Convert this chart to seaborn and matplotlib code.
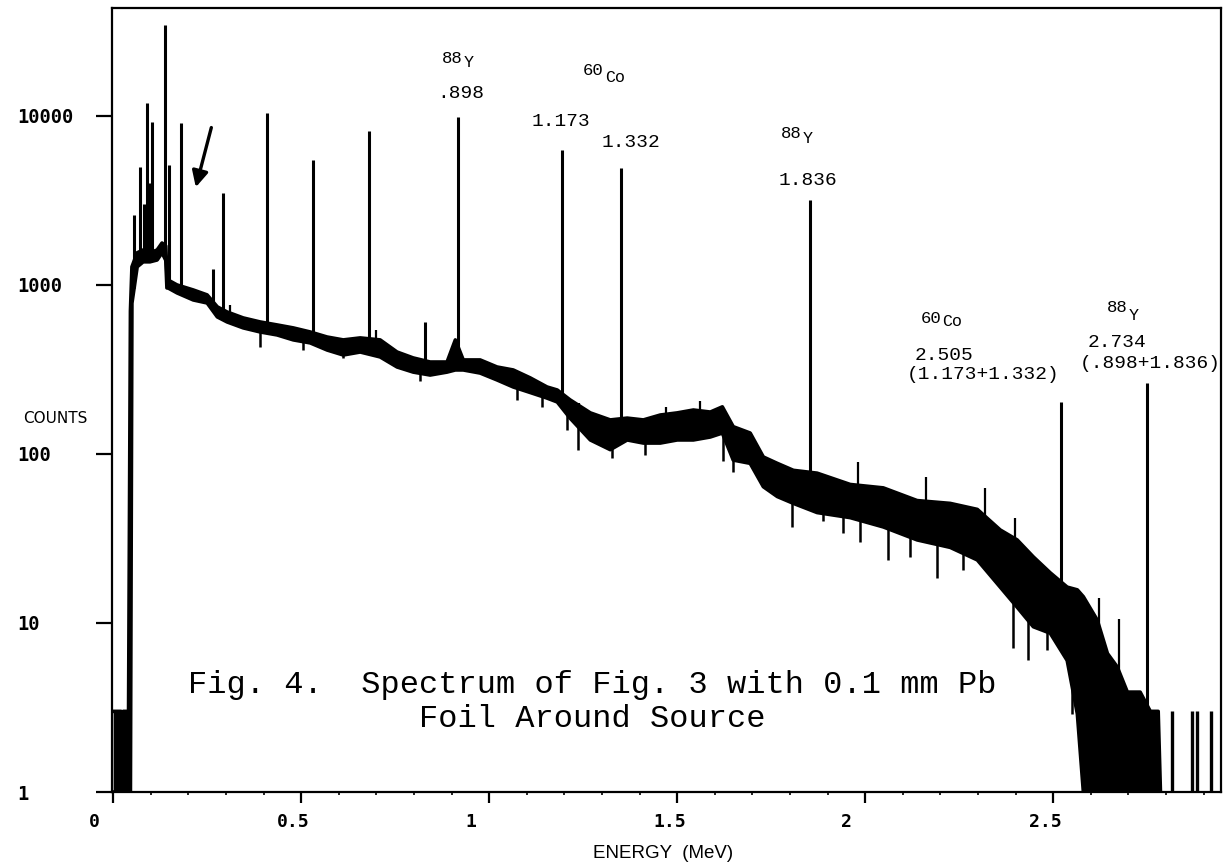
import matplotlib
matplotlib.use("Agg")
import matplotlib.pyplot as plt
import matplotlib.transforms as mtransforms
from matplotlib.ticker import MultipleLocator, NullLocator
import numpy as np
import seaborn as sns

# continuum band: energy (MeV), upper and lower edge (counts)
env_energy = [0.000, 0.021, 0.022, 0.026, 0.027, 0.041, 0.046, 0.050, 0.064, 0.080,
              0.098, 0.117, 0.130, 0.140, 0.143, 0.146, 0.170, 0.213, 0.250, 0.277,
              0.303, 0.346, 0.391, 0.436, 0.479, 0.524, 0.569, 0.612, 0.657, 0.710,
              0.755, 0.798, 0.843, 0.888, 0.910, 0.931, 0.976, 1.021, 1.064, 1.109,
              1.154, 1.181, 1.215, 1.269, 1.322, 1.367, 1.410, 1.455, 1.500, 1.543,
              1.588, 1.620, 1.649, 1.694, 1.729, 1.766, 1.809, 1.872, 1.960, 2.048,
              2.138, 2.226, 2.298, 2.359, 2.404, 2.447, 2.492, 2.537, 2.564, 2.580,
              2.617, 2.644, 2.670, 2.697, 2.731, 2.758, 2.779, 2.785]
env_upper = [3, 3, 1, 1, 3, 3, 700, 1280, 1550, 1610,
             1550, 1610, 1770, 1700, 1150, 1070, 1000, 934, 873, 742,
             692, 638, 604, 580, 557, 527, 492, 473, 486, 473,
             401, 370, 350, 350, 473, 360, 360, 327, 314, 282,
             249, 239, 209, 175, 159, 163, 159, 170, 175, 182,
             177, 190, 145, 133, 96, 88, 80, 77, 66, 63,
             53, 51, 47, 35.5, 31, 24.6, 19.8, 16.3, 15.7, 14.3,
             10.4, 6.6, 5.5, 3.9, 3.9, 3, 3, 1]
env_lower = [1, 1, 1, 1, 1, 1, 1, 780, 1280, 1370,
             1370, 1405, 1550, 1400, 960, 960, 897, 815, 782, 647,
             604, 557, 527, 506, 473, 454, 412, 385, 401, 375,
             327, 305, 293, 305, 314, 314, 301, 274, 249, 231,
             214, 203, 163, 121, 106, 121, 116, 116, 121, 121,
             126, 133, 92, 88, 64, 56, 51, 45, 42, 37,
             31, 28, 23.6, 16.3, 12.4, 9.5, 8.7, 6.0, 2.9, 1,
             1, 1, 1, 1, 1, 1, 1, 1]

# photopeaks (MeV position as drawn, peak height in counts)
peak_energy = [0.055, 0.072, 0.081, 0.090, 0.097, 0.104, 0.138, 0.149, 0.181, 0.266,
               0.293, 0.410, 0.532, 0.681, 0.830, 0.918, 1.194, 1.351, 1.854, 2.521, 2.750]
peak_counts = [2600, 5000, 3000, 12000, 4000, 9200, 34500, 5100, 9100, 1250,
               3500, 10400, 5500, 8100, 600, 9800, 6300, 4900, 3200, 204, 264]

# noise spikes sticking out of the band
spike_up_energy = [0.312, 0.700, 1.240, 1.470, 1.560, 1.981, 2.162, 2.319, 2.399, 2.622, 2.676]
spike_up_counts = [760, 540, 200, 190, 205, 90, 73, 63, 42, 14, 10.6]
spike_down_energy = [0.391, 0.505, 0.612, 0.816, 1.074, 1.141, 1.207, 1.237, 1.327, 1.415,
                     1.622, 1.649, 1.806, 1.888, 1.941, 1.987, 2.061, 2.120, 2.191, 2.261,
                     2.394, 2.434, 2.484, 2.551]
spike_down_counts = [428, 412, 370, 269, 209, 190, 139, 106, 95, 99,
                     91, 78, 37, 40, 34, 30, 23.6, 24.5, 18.5, 20.6,
                     7.1, 6.0, 6.9, 2.9]

# isolated single channels past the 2.734 line
tail_energy = [2.816, 2.870, 2.883, 2.920]
tail_counts = [3, 3, 3, 3]

x_ticks = [0, 0.5, 1, 1.5, 2, 2.5]
x_tick_labels = ["0", "0.5", "1", "1.5", "2", "2.5"]
y_ticks = [1, 10, 100, 1000, 10000]
y_tick_labels = ["1", "10", "100", "1000", "10000"]

sns.set_theme(style="ticks")
plt.rcParams['font.family'] = ['DejaVu Sans']

W, H = 1227, 863
fig = plt.figure(figsize=(W / 100, H / 100), dpi=100)
fig.patch.set_facecolor("white")
ax = fig.add_axes([112 / W, 71 / H, 1109 / W, 784 / H])
ax.set_facecolor("white")
ax.set_yscale("log")

ink = "black"
ax.fill_between(env_energy, env_lower, env_upper, color=ink, lw=0)
sns.lineplot(x=env_energy, y=env_upper, color=ink, lw=2.6, ax=ax, estimator=None, sort=False)
sns.lineplot(x=env_energy, y=env_lower, color=ink, lw=2.6, ax=ax, estimator=None, sort=False)

ax.vlines(peak_energy, np.interp(peak_energy, env_energy, env_lower), peak_counts,
          color=ink, lw=2.2)
ax.vlines(spike_up_energy, np.interp(spike_up_energy, env_energy, env_lower), spike_up_counts,
          color=ink, lw=1.6)
ax.vlines(spike_down_energy, spike_down_counts, np.interp(spike_down_energy, env_energy, env_upper),
          color=ink, lw=1.8)
ax.vlines(tail_energy, 1, tail_counts, color=ink, lw=2.4)

# hand-drawn arrow on the original
ax.annotate("", xy=(0.218, 3650), xytext=(0.263, 8850),
            arrowprops=dict(arrowstyle="-|>", color=ink, lw=2.4, mutation_scale=24))

ax.set_xlim(-0.003, 2.946)
ax.set_ylim(1, 43500)
ax.set_xlabel("")
ax.set_ylabel("")

ax.set_xticks(x_ticks)
ax.set_xticklabels(x_tick_labels)
ax.xaxis.set_minor_locator(MultipleLocator(0.1))
ax.set_yticks(y_ticks)
ax.set_yticklabels(y_tick_labels)
ax.yaxis.set_minor_locator(NullLocator())

ax.tick_params(axis="x", which="major", direction="out", length=8, width=1.6, pad=7,
               colors=ink, labelsize=13)
ax.tick_params(axis="x", which="minor", direction="out", length=2.5, width=1.2, colors=ink)
ax.tick_params(axis="y", which="major", direction="out", length=11.5, width=1.6, pad=57,
               colors=ink, labelsize=13.5)
ax.tick_params(top=False, right=False, which="both")

shift = mtransforms.ScaledTranslation(-24 / 100, 0, fig.dpi_scale_trans)
for lab in ax.get_xticklabels():
    lab.set_ha("left")
    lab.set_fontfamily("DejaVu Sans Mono")
    lab.set_fontweight("bold")
    lab.set_transform(lab.get_transform() + shift)
for lab in ax.get_yticklabels():
    lab.set_ha("left")
    lab.set_fontfamily("DejaVu Sans Mono")
    lab.set_fontweight("bold")

for sp in ax.spines.values():
    sp.set_visible(True)
    sp.set_color(ink)
    sp.set_linewidth(1.6)


def put(x, y, s, size, **kw):
    # place text by pixel position of the reference picture
    fig.text(x / W, 1 - y / H, s, fontsize=size, color=ink, **kw)


mono = "Liberation Mono"
# line labels
put(452, 63, "88", 12.5, ha="center", va="baseline", family=mono)
put(469, 67, "Y", 12, ha="center", va="baseline", family=mono)
put(461, 98, ".898", 14, ha="center", va="baseline", family=mono)
put(593, 75, "60", 12.5, ha="center", va="baseline", family=mono)
put(615, 82, "Co", 12, ha="center", va="baseline", family=mono)
put(561, 126, "1.173", 14, ha="center", va="baseline", family=mono)
put(631, 147, "1.332", 14, ha="center", va="baseline", family=mono)
put(791, 138, "88", 12.5, ha="center", va="baseline", family=mono)
put(808, 143, "Y", 12, ha="center", va="baseline", family=mono)
put(808, 185, "1.836", 14, ha="center", va="baseline", family=mono)
put(931, 323, "60", 12.5, ha="center", va="baseline", family=mono)
put(952, 326, "Co", 12, ha="center", va="baseline", family=mono)
put(944, 360, "2.505", 14, ha="center", va="baseline", family=mono)
put(983, 379, "(1.173+1.332)", 14, ha="center", va="baseline", family=mono)
put(1117, 312, "88", 12.5, ha="center", va="baseline", family=mono)
put(1134, 320, "Y", 12, ha="center", va="baseline", family=mono)
put(1117, 347, "2.734", 14, ha="center", va="baseline", family=mono)
put(1150, 368, "(.898+1.836)", 14, ha="center", va="baseline", family=mono)

# caption
put(592, 693, "Fig. 4.  Spectrum of Fig. 3 with 0.1 mm Pb", 23, ha="center", va="baseline", family=mono)
put(592, 727, "Foil Around Source", 23, ha="center", va="baseline", family=mono)

# axis titles
put(55, 418, "COUNTS", 11, ha="center", va="center", family="DejaVu Sans")
put(663, 853, "ENERGY  (MeV)", 13.5, ha="center", va="center", family="Liberation Sans")

fig.savefig("out.png", dpi=100, facecolor="white")
